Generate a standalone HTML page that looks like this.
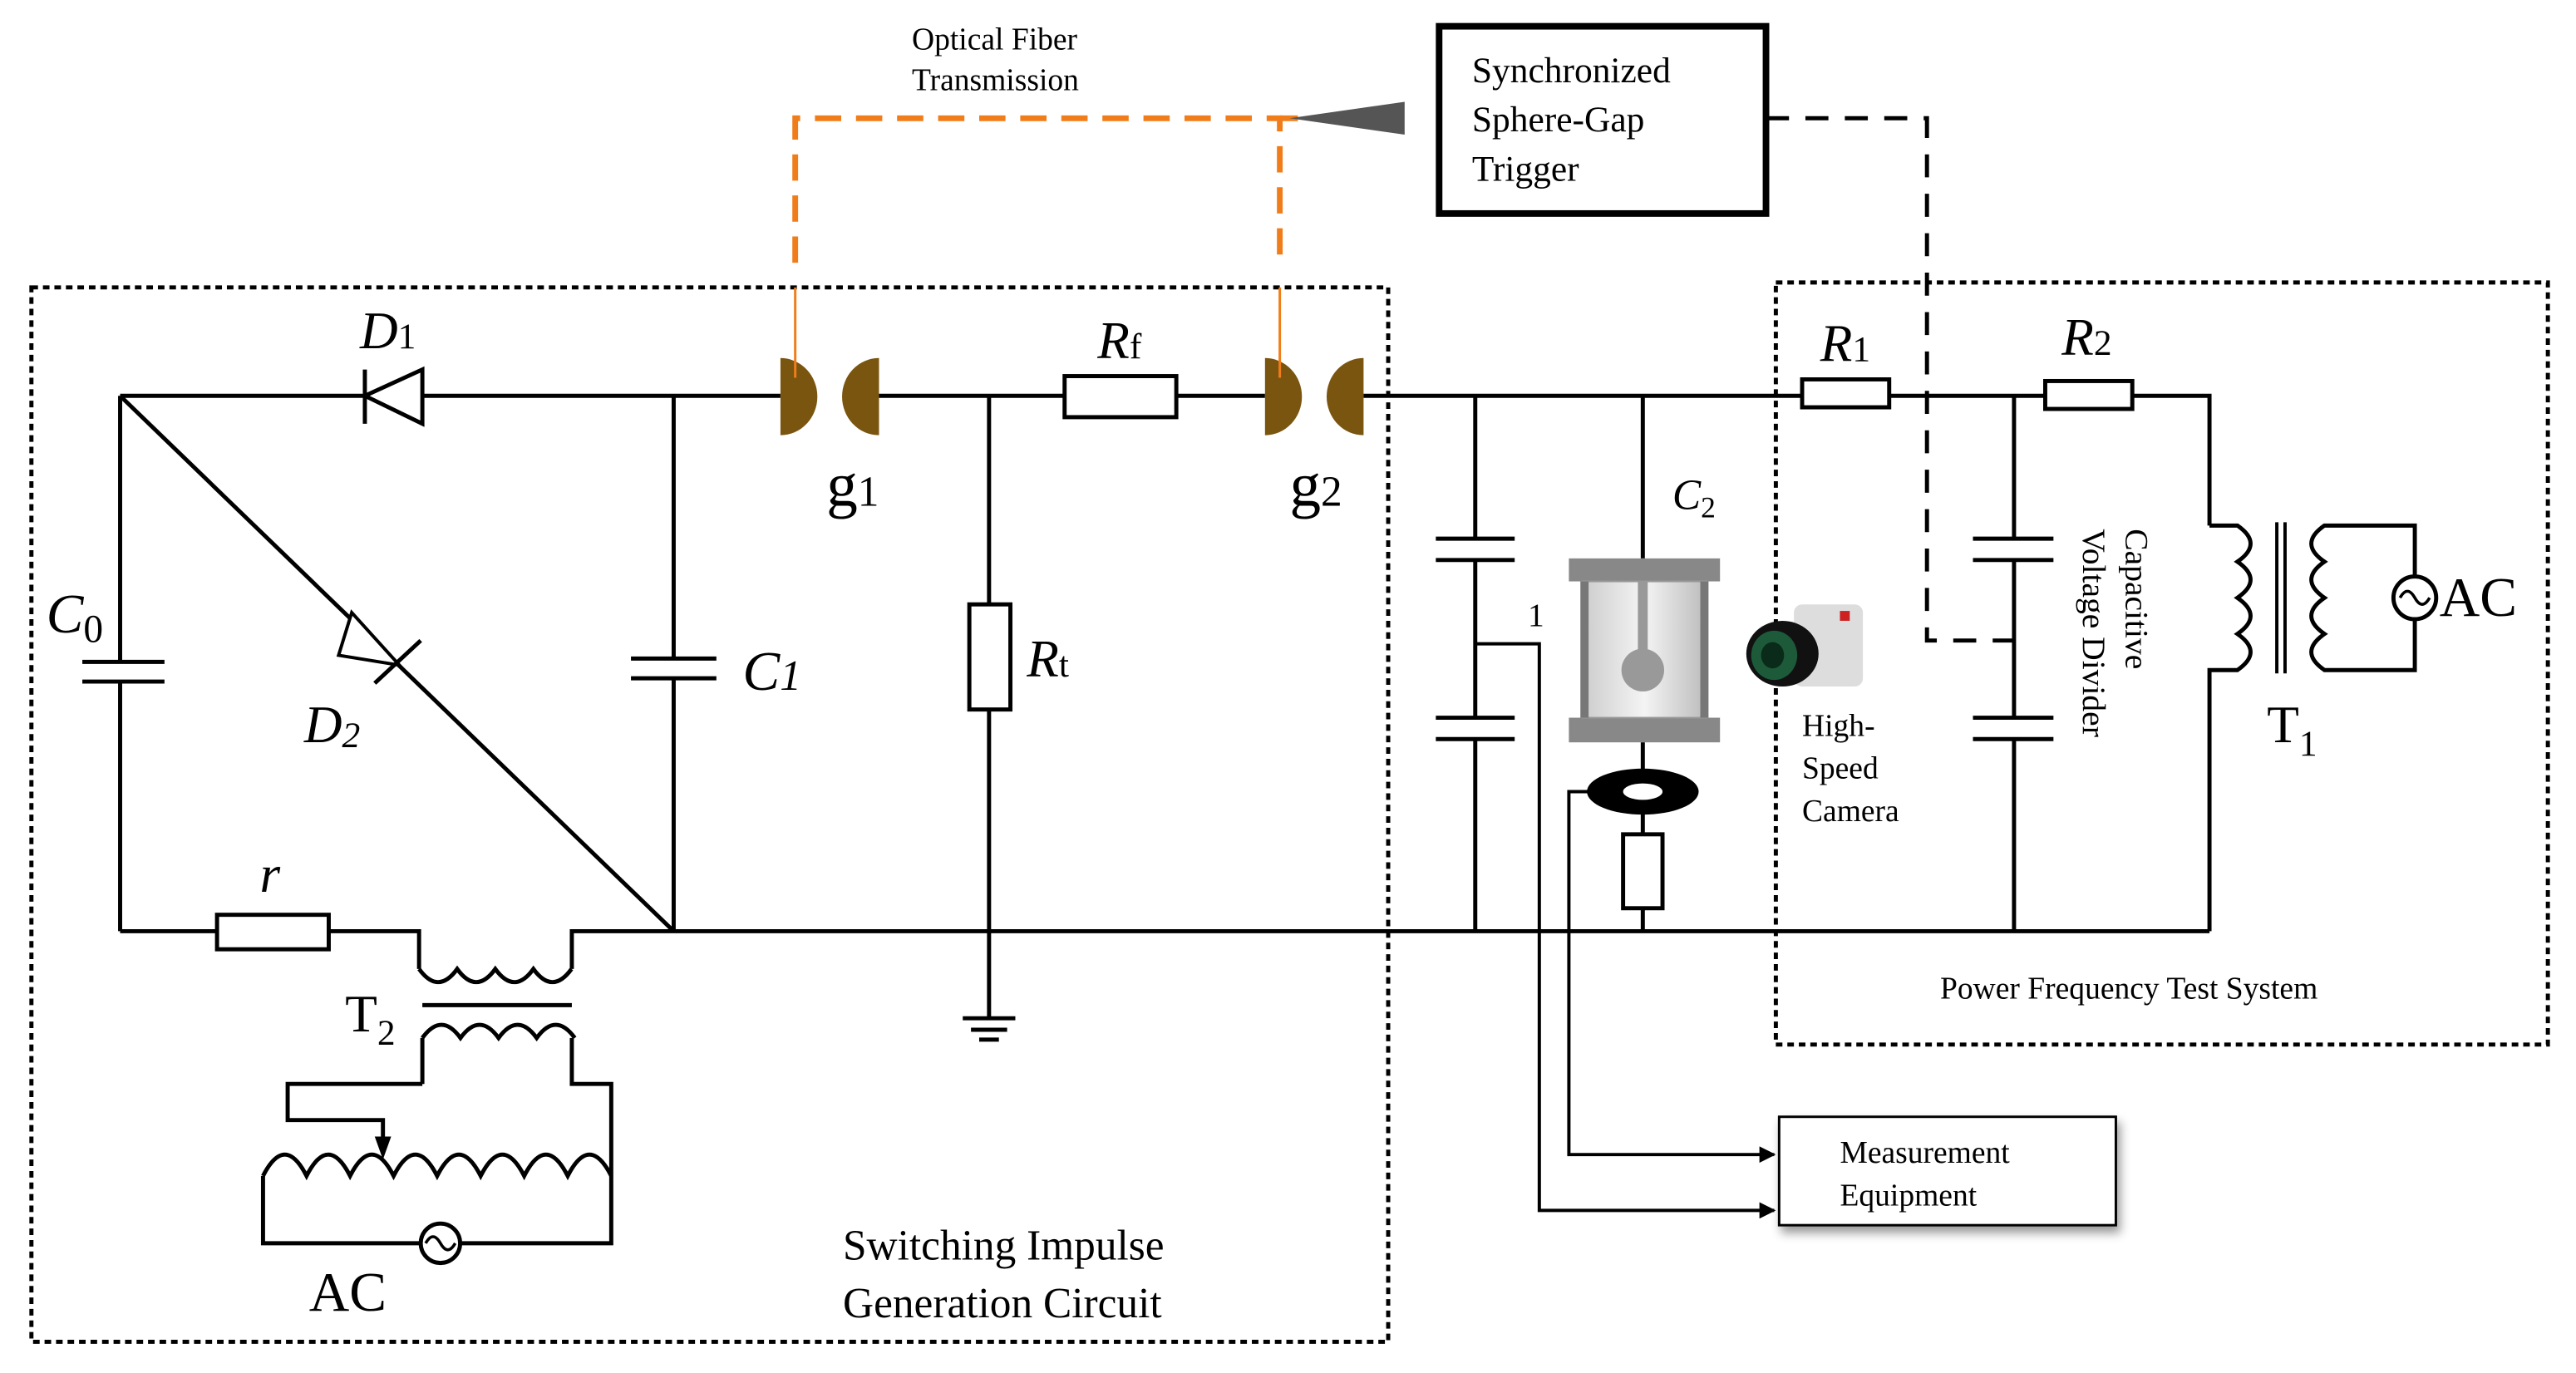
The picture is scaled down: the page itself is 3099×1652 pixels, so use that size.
<!DOCTYPE html>
<html><head><meta charset="utf-8"><style>
html,body{margin:0;padding:0;background:#fff;}
svg{display:block;}
text{font-family:"Liberation Serif","DejaVu Serif",serif;fill:#000;}
</style></head><body>
<svg width="3099" height="1652" viewBox="0 0 1568 836" xmlns="http://www.w3.org/2000/svg">
<defs>
<marker id="ah" markerWidth="10" markerHeight="10" refX="9" refY="5" orient="auto" markerUnits="userSpaceOnUse"><path d="M0,0 L10,5 L0,10 Z" fill="#000"/></marker>
<linearGradient id="gl" x1="0" x2="1"><stop offset="0" stop-color="#ccc"/><stop offset="0.5" stop-color="#f4f4f4"/><stop offset="1" stop-color="#bbb"/></linearGradient>
</defs>
<g fill="none" stroke="#000" stroke-width="2.5">
<rect x="19" y="175" width="826" height="642" stroke-dasharray="4,3" stroke-width="2.5"/>
<rect x="1081" y="172" width="470" height="464" stroke-dasharray="4,3" stroke-width="2.5"/>
<path d="M73,241 H475 M535,241 H648 M716,241 H770 M830,241 H1097 M1150,241 H1245 M1298,241 H1345 V320"/>
<path d="M222,225 V258" />
<path d="M222,241 L257,225 V258 Z" fill="#fff"/>
<path d="M73,241 V403 M73,415 V567 M50,403 H100 M50,415 H100"/>
<path d="M73,241 L410,567"/>
<path d="M206,399 L214,373 L243,405 Z" fill="#fff" stroke-width="2"/>
<path d="M228,416 L256,390" />
<path d="M410,241 V401 M410,413 V567 M384,401 H436 M384,413 H436"/>
<path d="M73,567 H132 M200,567 H255 V590 M348,590 V567 H1345"/>
<rect x="132" y="557" width="68" height="21"/>
<path d="M255,590 q11.6,16 23.2,0 q11.6,16 23.2,0 q11.6,16 23.2,0 q11.6,16 23.2,0" />
<path d="M257,612 H348" />
<path d="M257,632 q11.6,-16 23.2,0 q11.6,-16 23.2,0 q11.6,-16 23.2,0 q11.6,-16 23.2,0 M257,632 V660 M348,632 V660 H372 V757 H280 M256,757 H160 V716 M257,660 H175 V682 H233 V694"/>
<path d="M160,716 q13.25,-26 26.5,0 q13.25,-26 26.5,0 q13.25,-26 26.5,0 q13.25,-26 26.5,0 q13.25,-26 26.5,0 q13.25,-26 26.5,0 q13.25,-26 26.5,0 q13.25,-26 26.5,0"/>
<circle cx="268" cy="757" r="12"/>
<path d="M259,757 q4.5,-8 9,0 q4.5,8 9,0" stroke-width="1.8"/>
<rect x="648" y="229" width="68" height="25"/>
<path d="M602,241 V368 M602,432 V620 M586,620 H618 M591,627 H613 M596,633 H608"/>
<rect x="590" y="368" width="25" height="64"/>
<path d="M898,241 V328 M898,341 V437 M898,450 V567 M874,328 H922 M874,341 H922 M874,437 H922 M874,450 H922"/>
<path d="M898,392 H937 V737 H1080" stroke-width="2" marker-end="url(#ah)"/>
<path d="M1000,241 V340 M1000,452 V508 M1000,553 V567"/>
<rect x="988" y="508" width="24" height="45"/>
<path d="M967,482 H955 V703 H1080" stroke-width="2" marker-end="url(#ah)"/>
<rect x="1097" y="231" width="53" height="17"/>
<rect x="1245" y="232" width="53" height="17"/>
<path d="M1226,241 V328 M1226,341 V437 M1226,450 V567 M1201,328 H1250 M1201,341 H1250 M1201,437 H1250 M1201,450 H1250"/>
<path d="M1345,320 H1362 q16,11 0,22 q16,11 0,22 q16,11 0,22 q16,11 0,22 H1345 V567"/>
<path d="M1386,318 V410 M1391,318 V410" stroke-width="2"/>
<path d="M1470,320 H1415 q-16,11 0,22 q-16,11 0,22 q-16,11 0,22 q-16,11 0,22 H1470 Z"/>
<circle cx="1470" cy="364" r="13" fill="#fff"/>
<path d="M1461,364 q4.5,-8 9,0 q4.5,8 9,0" stroke-width="1.8"/>
<rect x="876" y="16" width="199" height="114" stroke-width="4"/>
<path d="M1075,72 H1173 V390 H1226" stroke-width="2.5" stroke-dasharray="14,10"/>
<rect x="1083" y="680" width="205" height="66" stroke-width="1.5" fill="#fff" style="filter:drop-shadow(2px 4px 3px #999)"/>
</g>
<path d="M228,692 L238,692 L233,706 Z" fill="#000"/>
<g fill="#7a5510">
<path d="M475,218 A22,23 0 0 1 475,265 Z"/>
<path d="M535,218 A22,23 0 0 0 535,265 Z"/>
<path d="M770,218 A22,23 0 0 1 770,265 Z"/>
<path d="M830,218 A22,23 0 0 0 830,265 Z"/>
</g>
<g fill="none" stroke="#f07d1a" stroke-width="3.5">
<path d="M484,160 V72 H779 V160" stroke-dasharray="16,9"/>
<path d="M484,175 V230" stroke-width="1.5"/>
<path d="M779,175 V230" stroke-width="1.5"/>
<path d="M779,72 H790"/>
</g>
<path d="M785,72 L855,62 V82 Z" fill="#555"/>
<rect x="955" y="340" width="92" height="14" fill="#888"/>
<rect x="955" y="437" width="92" height="15" fill="#888"/>
<rect x="963" y="354" width="76" height="83" fill="url(#gl)" stroke="#999"/>
<rect x="962" y="354" width="5" height="83" fill="#777"/>
<rect x="1035" y="354" width="5" height="83" fill="#777"/>
<rect x="997" y="354" width="6" height="45" fill="#999"/>
<circle cx="1000" cy="408" r="13" fill="#999"/>
<ellipse cx="1000" cy="482" rx="34" ry="14" fill="#000"/>
<ellipse cx="1000" cy="482" rx="12" ry="5" fill="#fff"/>
<rect x="1092" y="368" width="42" height="50" rx="5" fill="#ddd"/>
<rect x="1120" y="372" width="6" height="6" fill="#c22"/>
<ellipse cx="1085" cy="398" rx="22" ry="20" fill="#111"/>
<ellipse cx="1080" cy="399" rx="14" ry="15" fill="#1d5a3a"/>
<ellipse cx="1079" cy="399" rx="7" ry="8" fill="#0a2a1a"/>
<text x="219" y="212" font-size="32" font-style="italic">D<tspan font-size="22" font-style="normal">1</tspan></text>
<text x="28" y="385" font-size="34" font-style="italic">C<tspan font-size="24" font-style="normal" dy="6">0</tspan></text>
<text x="185" y="452" font-size="32" font-style="italic">D<tspan font-size="22" dy="3">2</tspan></text>
<text x="452" y="420" font-size="34" font-style="italic">C<tspan font-size="26">1</tspan></text>
<text x="158" y="543" font-size="32" font-style="italic">r</text>
<text x="210" y="628" font-size="32">T<tspan font-size="22" dy="8">2</tspan></text>
<text x="188" y="798" font-size="34">AC</text>
<text x="503" y="308" font-size="38">g<tspan font-size="26">1</tspan></text>
<text x="785" y="308" font-size="38">g<tspan font-size="26">2</tspan></text>
<text x="668" y="218" font-size="32" font-style="italic">R<tspan font-size="22" font-style="normal">f</tspan></text>
<text x="625" y="412" font-size="32" font-style="italic">R<tspan font-size="22" font-style="normal">t</tspan></text>
<text x="513" y="767" font-size="26">Switching Impulse</text>
<text x="513" y="802" font-size="26">Generation Circuit</text>
<text x="555" y="30" font-size="19">Optical Fiber</text>
<text x="555" y="55" font-size="19">Transmission</text>
<text x="896" y="50" font-size="22">Synchronized</text>
<text x="896" y="80" font-size="22">Sphere-Gap</text>
<text x="896" y="110" font-size="22">Trigger</text>
<text x="930" y="381" font-size="20">1</text>
<text x="1018" y="310" font-size="26" font-style="italic">C<tspan font-size="18" font-style="normal" dy="5">2</tspan></text>
<text x="1097" y="448" font-size="19">High-</text>
<text x="1097" y="474" font-size="19">Speed</text>
<text x="1097" y="500" font-size="19">Camera</text>
<text x="1108" y="220" font-size="32" font-style="italic">R<tspan font-size="22" font-style="normal">1</tspan></text>
<text x="1255" y="216" font-size="32" font-style="italic">R<tspan font-size="22" font-style="normal">2</tspan></text>
<text transform="translate(1294,322) rotate(90)" font-size="20">Capacitive</text>
<text transform="translate(1268,322) rotate(90)" font-size="20">Voltage Divider</text>
<text x="1380" y="452" font-size="32">T<tspan font-size="22" dy="8">1</tspan></text>
<text x="1485" y="375" font-size="34">AC</text>
<text x="1181" y="608" font-size="19">Power Frequency Test System</text>
<text x="1120" y="708" font-size="19">Measurement</text>
<text x="1120" y="734" font-size="19">Equipment</text>
</svg>
</body></html>
